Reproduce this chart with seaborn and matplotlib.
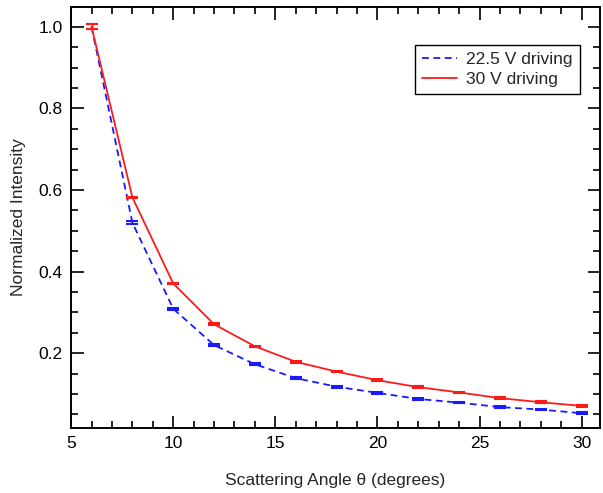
import numpy as np
import pandas as pd
import seaborn as sns
import matplotlib.pyplot as plt
from matplotlib.ticker import MultipleLocator
from matplotlib.lines import Line2D

### data
angle = [6, 8, 10, 12, 14, 16, 18, 20, 22, 24, 26, 28, 30]
v225 = [1.0, 0.520, 0.309, 0.220, 0.173, 0.139, 0.118, 0.103, 0.088, 0.079, 0.068, 0.062, 0.053]
v30 = [1.0, 0.582, 0.371, 0.271, 0.217, 0.179, 0.155, 0.134, 0.117, 0.104, 0.090, 0.080, 0.071]
err225 = [0.006, 0.003, 0.002, 0.002, 0.002, 0.002, 0.002, 0.002, 0.002, 0.002, 0.002, 0.002, 0.002]
err30 = [0.006, 0.002, 0.002, 0.002, 0.002, 0.002, 0.002, 0.002, 0.002, 0.002, 0.002, 0.002, 0.002]
labels = ["22.5 V driving", "30 V driving"]

df = pd.DataFrame({
    "angle": angle * 2,
    "intensity": v225 + v30,
    "run": [labels[0]] * len(angle) + [labels[1]] * len(angle),
})

sns.set_theme(style="ticks")
plt.rcParams['font.family'] = ['Liberation Sans', 'DejaVu Sans']
fs = 12.5

fig = plt.figure(figsize=(6.03, 4.93), dpi=100)
ax = fig.add_axes([0.118, 0.132, 0.877, 0.854])

pal = {labels[0]: "#1a1aff", labels[1]: "#ff1a1a"}
sns.lineplot(data=df, x="angle", y="intensity", hue="run", style="run",
             palette=pal, dashes={labels[0]: (3.8, 2.5), labels[1]: ""},
             linewidth=1.3, ax=ax, legend=False)

# small error bars
ax.errorbar(angle, v225, yerr=err225, fmt="none", ecolor=pal[labels[0]],
            capsize=4, elinewidth=1.0, capthick=1.5)
ax.errorbar(angle, v30, yerr=err30, fmt="none", ecolor=pal[labels[1]],
            capsize=4, elinewidth=1.0, capthick=1.5)

ax.set_xlim(5, 30.9)
ax.set_ylim(0.017, 1.049)
ax.xaxis.set_major_locator(MultipleLocator(5))
ax.xaxis.set_minor_locator(MultipleLocator(1))
ax.yaxis.set_major_locator(MultipleLocator(0.2))
ax.yaxis.set_minor_locator(MultipleLocator(0.05))
ax.tick_params(which="both", direction="in", top=True, right=True,
               labelsize=fs, colors="black", width=1.2)
ax.tick_params(which="major", length=9, pad=6)
ax.tick_params(which="minor", length=5)
for s in ax.spines.values():
    s.set_linewidth(1.4)
    s.set_color("black")

ax.set_xlabel("Scattering Angle θ (degrees)", fontsize=fs, labelpad=16)
ax.set_ylabel("Normalized Intensity", fontsize=fs, labelpad=9)

handles = [Line2D([], [], color=pal[labels[0]], lw=1.3, dashes=(3.8, 2.5)),
           Line2D([], [], color=pal[labels[1]], lw=1.3)]
leg = ax.legend(handles, labels, loc="upper right", bbox_to_anchor=(0.962, 0.91),
                borderaxespad=0, fancybox=False, edgecolor="black", framealpha=1,
                fontsize=fs, handlelength=2.0, handletextpad=0.55, borderpad=0.4,
                labelspacing=0.3)
leg.get_frame().set_linewidth(1.0)

fig.savefig("out.png", dpi=100)
